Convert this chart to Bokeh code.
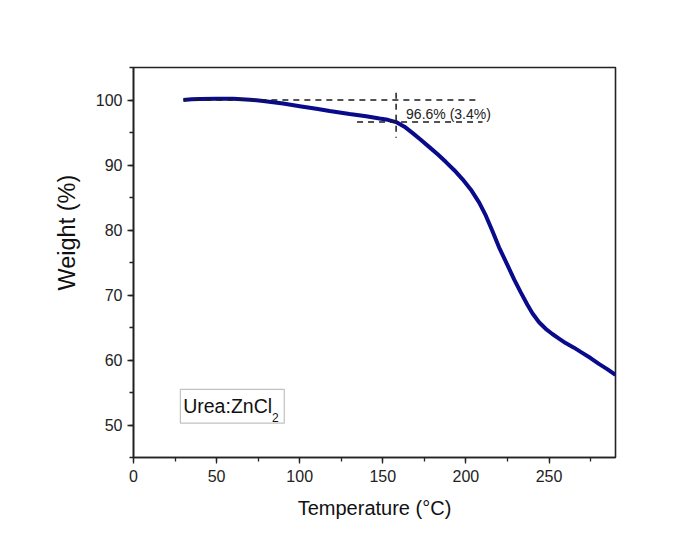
from bokeh.plotting import figure
from bokeh.models import (SingleIntervalTicker, Label, BoxAnnotation, Range1d,
                          ColumnDataSource, Title)
from bokeh.embed import file_html
from bokeh.resources import INLINE

# TGA curve
temperature = [30, 35, 40, 50, 60, 70, 78, 90, 100, 110, 118, 130, 140, 148,
               153, 158, 163, 168, 173, 178, 183, 188, 193, 198, 203, 208,
               212, 216, 220, 225, 229, 233, 237, 240, 244, 248, 252, 256,
               260, 265, 270, 275, 280, 285, 290]
weight = [100.0, 100.1, 100.15, 100.2, 100.2, 100.05, 99.85, 99.45, 99.05,
          98.65, 98.3, 97.85, 97.5, 97.15, 96.95, 96.6, 95.9, 94.9, 93.85,
          92.75, 91.65, 90.45, 89.2, 87.8, 86.2, 84.2, 82.2, 79.8, 77.3,
          74.6, 72.4, 70.4, 68.5, 67.2, 65.8, 64.8, 64.0, 63.3, 62.6, 61.9,
          61.1, 60.3, 59.4, 58.6, 57.7]

x_ticks_interval = 50
y_ticks_interval = 10

# annotation guide lines (dashed)
guide_x0 = [30, 158, 134.5]
guide_x1 = [208.5, 158, 210]
guide_y0 = [100.0, 101.1, 96.6]
guide_y1 = [100.0, 94.2, 96.6]
annotation_text = "96.6% (3.4%)"
sample_name = "Urea:ZnCl"
sample_sub = "2"

p = figure(width=700, height=539, output_backend="svg", toolbar_location=None,
           x_range=Range1d(0, 290), y_range=Range1d(45, 105),
           min_border_left=133, min_border_right=85, min_border_top=67,
           min_border_bottom=82)
p.background_fill_color = "white"
p.border_fill_color = "white"
p.grid.visible = False
p.outline_line_color = "#222222"
p.outline_line_width = 1.6

font = "Liberation Sans"
for ax in (p.xaxis[0], p.yaxis[0]):
    ax.axis_line_color = "#222222"
    ax.axis_line_width = 1.6
    ax.major_tick_line_color = "#222222"
    ax.minor_tick_line_color = "#222222"
    ax.major_tick_line_width = 1.3
    ax.minor_tick_line_width = 1.3
    ax.major_tick_in = 0
    ax.major_tick_out = 6
    ax.minor_tick_in = 0
    ax.minor_tick_out = 4
    ax.major_label_text_font = font
    ax.major_label_text_font_size = "16px"
    ax.major_label_text_color = "#222222"
    ax.axis_label_text_font = font
    ax.axis_label_text_font_style = "normal"
    ax.axis_label_text_color = "#111111"

p.xaxis[0].ticker = SingleIntervalTicker(interval=x_ticks_interval, num_minor_ticks=2)
p.yaxis[0].ticker = SingleIntervalTicker(interval=y_ticks_interval, num_minor_ticks=2)
p.xaxis[0].major_label_standoff = 6
p.yaxis[0].major_label_standoff = 5
p.xaxis[0].axis_label = "Temperature (°C)"
p.xaxis[0].axis_label_text_font_size = "20px"
p.xaxis[0].axis_label_standoff = 12

ytitle = Title(text="Weight (%)", align="left", offset=167,
               text_font=font, text_font_size="23.5px",
               text_font_style="normal", text_color="#111111", standoff=25)
p.add_layout(ytitle, "left")

src = ColumnDataSource(dict(x=temperature, y=weight))
p.line("x", "y", source=src, line_color="#0a0a8c", line_width=4)

p.segment(x0=guide_x0, y0=guide_y0, x1=guide_x1, y1=guide_y1,
          line_color="#1a1a1a", line_width=1.5, line_dash="6 5")

p.add_layout(Label(x=164, y=97.8, text=annotation_text, text_font=font,
                   text_font_size="14px", text_color="#222222",
                   text_baseline="alphabetic"))

p.add_layout(BoxAnnotation(left=28.2, right=90.7, bottom=50.28, top=55.47,
                           fill_alpha=0, line_color="#333333", line_width=1.2))
p.add_layout(Label(x=29.9, y=52.85, text=sample_name, text_font=font,
                   text_font_size="19.5px", text_color="#111111",
                   text_baseline="alphabetic"))
p.add_layout(Label(x=83.3, y=51.1, text=sample_sub, text_font=font,
                   text_font_size="12px", text_color="#111111",
                   text_baseline="alphabetic"))

open("out.html", "w").write(file_html(p, INLINE))
